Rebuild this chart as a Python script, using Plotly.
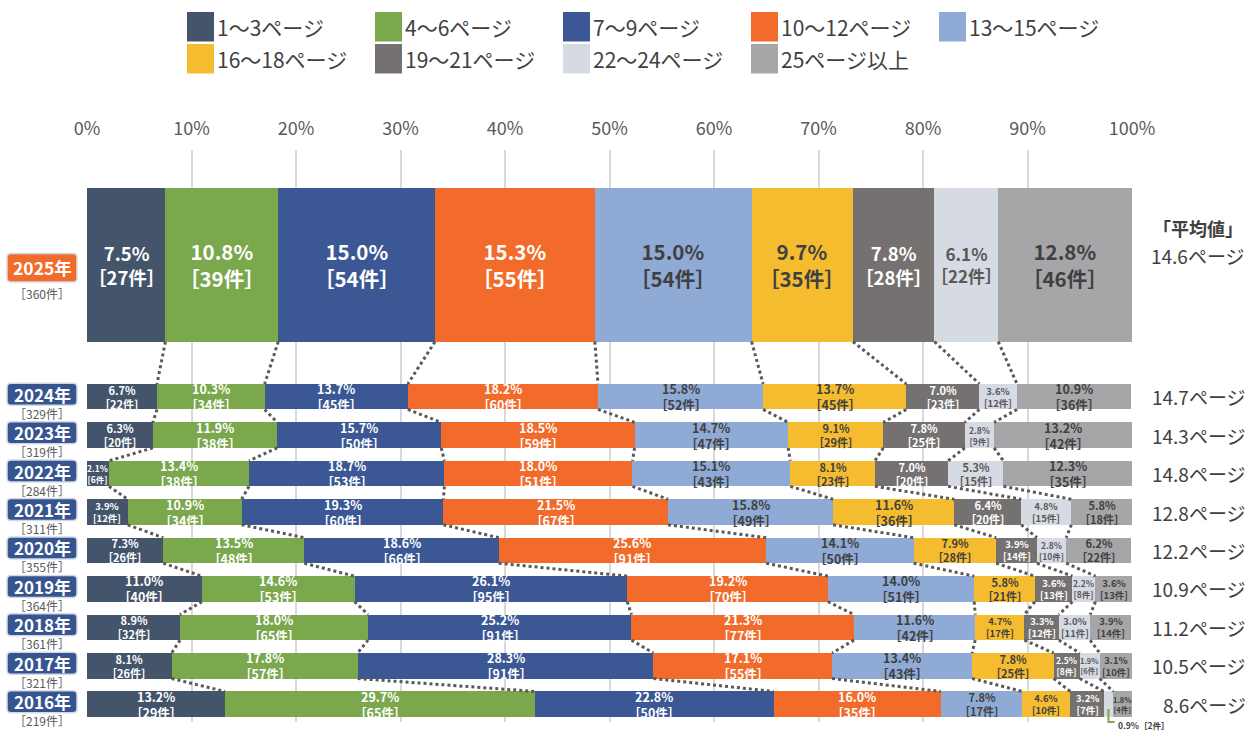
import plotly.graph_objects as go

# ---------------- data ----------------
categories = ["1〜3ページ", "4〜6ページ", "7〜9ページ", "10〜12ページ", "13〜15ページ",
              "16〜18ページ", "19〜21ページ", "22〜24ページ", "25ページ以上"]
years = ["2025年", "2024年", "2023年", "2022年", "2021年",
         "2020年", "2019年", "2018年", "2017年", "2016年"]
totals = [360, 329, 319, 284, 311, 355, 364, 361, 321, 219]
avg_pages = [14.6, 14.7, 14.3, 14.8, 12.8, 12.2, 10.9, 11.2, 10.5, 8.6]
x_ticks = [0, 10, 20, 30, 40, 50, 60, 70, 80, 90, 100]

pct_2025 = [7.5, 10.8, 15.0, 15.3, 15.0, 9.7, 7.8, 6.1, 12.8]
cnt_2025 = [27, 39, 54, 55, 54, 35, 28, 22, 46]
pct_2024 = [6.7, 10.3, 13.7, 18.2, 15.8, 13.7, 7.0, 3.6, 10.9]
cnt_2024 = [22, 34, 45, 60, 52, 45, 23, 12, 36]
pct_2023 = [6.3, 11.9, 15.7, 18.5, 14.7, 9.1, 7.8, 2.8, 13.2]
cnt_2023 = [20, 38, 50, 59, 47, 29, 25, 9, 42]
pct_2022 = [2.1, 13.4, 18.7, 18.0, 15.1, 8.1, 7.0, 5.3, 12.3]
cnt_2022 = [6, 38, 53, 51, 43, 23, 20, 15, 35]
pct_2021 = [3.9, 10.9, 19.3, 21.5, 15.8, 11.6, 6.4, 4.8, 5.8]
cnt_2021 = [12, 34, 60, 67, 49, 36, 20, 15, 18]
pct_2020 = [7.3, 13.5, 18.6, 25.6, 14.1, 7.9, 3.9, 2.8, 6.2]
cnt_2020 = [26, 48, 66, 91, 50, 28, 14, 10, 22]
pct_2019 = [11.0, 14.6, 26.1, 19.2, 14.0, 5.8, 3.6, 2.2, 3.6]
cnt_2019 = [40, 53, 95, 70, 51, 21, 13, 8, 13]
pct_2018 = [8.9, 18.0, 25.2, 21.3, 11.6, 4.7, 3.3, 3.0, 3.9]
cnt_2018 = [32, 65, 91, 77, 42, 17, 12, 11, 14]
pct_2017 = [8.1, 17.8, 28.3, 17.1, 13.4, 7.8, 2.5, 1.9, 3.1]
cnt_2017 = [26, 57, 91, 55, 43, 25, 8, 6, 10]
pct_2016 = [13.2, 29.7, 22.8, 16.0, 7.8, 4.6, 3.2, 0.9, 1.8]
cnt_2016 = [29, 65, 50, 35, 17, 10, 7, 2, 4]

shares = [pct_2025, pct_2024, pct_2023, pct_2022, pct_2021,
          pct_2020, pct_2019, pct_2018, pct_2017, pct_2016]
counts = [cnt_2025, cnt_2024, cnt_2023, cnt_2022, cnt_2021,
          cnt_2020, cnt_2019, cnt_2018, cnt_2017, cnt_2016]

# ---------------- styling ----------------
FONT = "Noto Sans CJK JP"
colors = ["#44546A", "#7BA74D", "#3B5894", "#F26B2B", "#8FAAD5",
          "#F6BC30", "#757171", "#D6DAE3", "#A6A6A8"]
text_colors = ["#FFFFFF", "#FFFFFF", "#FFFFFF", "#FFFFFF", "#404040",
               "#404040", "#FFFFFF", "#595959", "#404040"]
DARK = "#404040"

W, H = 1252, 731
ML, MR, MT, MB = 87, 120, 150, 9
PW, PH = W - ML - MR, H - MT - MB

# vertical layout in row units (1 unit = spacing between the small bars)
PITCH = 38.44          # px per row
ROW0 = 396.7           # px centre of the first small bar
MAIN_CENTER = 264.7    # px centre of the large bar
MAIN_H, ROW_H = 154, 25.5


def yv(py):
    return (py - ROW0) / PITCH


def ppx(px):
    return (px - ML) / PW


def ppy(py):
    return (H - MB - py) / PH


ypos = [yv(MAIN_CENTER)] + [float(i) for i in range(len(years) - 1)]
heights = [MAIN_H / PITCH] + [ROW_H / PITCH] * (len(years) - 1)

fig = go.Figure()

# stacked bars, one trace per page-count class
for j, cat in enumerate(categories):
    fig.add_trace(go.Bar(
        orientation="h",
        name=cat,
        x=[row[j] for row in shares],
        y=ypos,
        width=heights,
        marker=dict(color=colors[j], line=dict(width=0)),
        showlegend=False,
        hovertemplate=cat + ": %{x:.1f}%<extra></extra>",
    ))

# cumulative boundaries for labels and connectors
cums = []
for row in shares:
    c, acc = [], 0.0
    for v in row:
        c.append(acc)
        acc += v
    cums.append(c)

# dotted connectors between the segment boundaries of consecutive years
cx, cy = [], []
for i in range(len(years) - 1):
    y_from = ypos[i] + heights[i] / 2
    y_to = ypos[i + 1] - heights[i + 1] / 2
    for j in range(1, len(categories)):
        cx += [cums[i][j], cums[i + 1][j], None]
        cy += [y_from, y_to, None]
fig.add_trace(go.Scatter(
    x=cx, y=cy, mode="lines", showlegend=False, hoverinfo="skip",
    line=dict(color="#595959", width=3, dash="dot"),
))

annotations = []
shapes = []


def note(**kw):
    kw.setdefault("showarrow", False)
    kw.setdefault("xanchor", "center")
    kw.setdefault("yanchor", "middle")
    kw.setdefault("borderpad", 0)
    annotations.append(kw)


def label_size(v):
    if v >= 9.5:
        return 12.5
    if v >= 5:
        return 11
    if v >= 3:
        return 9.5
    if v >= 2:
        return 8.5
    return 7.5


def main_label_size(v):
    if v >= 9:
        return 20.5
    if v >= 7:
        return 18.5
    return 17


# segment labels: share on the first line, count on the second
for i in range(len(years)):
    for j, v in enumerate(shares[i]):
        if v < 1.5:
            continue
        xc = cums[i][j] + v / 2
        size = main_label_size(v) if i == 0 else label_size(v)
        # narrow segments get compact brackets so the label stays inside
        lb, rb = ("[", "]") if v < 5 else ("［", "］")
        note(x=xc, y=ypos[i], xref="x", yref="y",
             text=f"<b>{v:.1f}%</b><br><b>{lb}{counts[i][j]}件{rb}</b>",
             font=dict(family=FONT, size=size, color=text_colors[j]))

# callout for the thin 22〜24 segment of the last year
last = len(years) - 1
k = 7
xc_small = (cums[last][k] + shares[last][k] / 2) / 100
bar_bottom_px = ROW0 + ypos[last] * PITCH + ROW_H / 2
shapes.append(dict(
    type="path", xref="paper", yref="paper",
    path=f"M{xc_small},{ppy(bar_bottom_px - 8)} L{xc_small},{ppy(bar_bottom_px + 5)} "
         f"L{xc_small + 6 / PW},{ppy(bar_bottom_px + 5)}",
    line=dict(color="#7BA74D", width=2)))
note(x=xc_small + 9 / PW, y=ppy(bar_bottom_px + 8), xref="paper", yref="paper",
     xanchor="left",
     text=f"<b>{shares[last][k]:.1f}%［{counts[last][k]}件］</b>",
     font=dict(family=FONT, size=8.5, color=DARK))


def rounded_rect(x0, y0, x1, y1, r):
    # x/y in px, returns a path in paper coordinates
    def P(px, py):
        return f"{ppx(px)},{ppy(py)}"
    return (f"M{P(x0 + r, y0)} L{P(x1 - r, y0)} Q{P(x1, y0)} {P(x1, y0 + r)} "
            f"L{P(x1, y1 - r)} Q{P(x1, y1)} {P(x1 - r, y1)} "
            f"L{P(x0 + r, y1)} Q{P(x0, y1)} {P(x0, y1 - r)} "
            f"L{P(x0, y0 + r)} Q{P(x0, y0)} {P(x0 + r, y0)} Z")


# year badges and response counts on the left
BOX_X0, BOX_X1 = 7, 77
for i, yr in enumerate(years):
    cpx = ROW0 + ypos[i] * PITCH
    if i == 0:
        bc, bh, badge, fs = cpx + 3, 28.5, "#F26B2B", 17.5
        cnt_py = cpx + 29
    else:
        bc, bh, badge, fs = cpx - 2.5, 22, "#365590", 17
        cnt_py = cpx + 16.5
    shapes.append(dict(
        type="path", xref="paper", yref="paper",
        path=rounded_rect(BOX_X0, bc - bh / 2, BOX_X1, bc + bh / 2, 4),
        fillcolor=badge, line=dict(color="#D3DAE6", width=1.5)))
    note(x=ppx((BOX_X0 + BOX_X1) / 2), y=ppy(bc), xref="paper", yref="paper",
         text=f"<b>{yr}</b>", font=dict(family=FONT, size=fs, color="#FFFFFF"))
    note(x=ppx((BOX_X0 + BOX_X1) / 2), y=ppy(cnt_py), xref="paper", yref="paper",
         text=f"［{totals[i]}件］", font=dict(family=FONT, size=12, color="#595959"))

# average page count on the right
for i, a in enumerate(avg_pages):
    if i == 0:
        note(x=ppx(1198), y=ppy(228), xref="paper", yref="paper",
             text="<b>「平均値」</b>", font=dict(family=FONT, size=18, color=DARK))
        note(x=ppx(1198), y=ppy(255), xref="paper", yref="paper",
             text=f"{a}ページ", font=dict(family=FONT, size=19, color=DARK))
    else:
        note(x=ppx(1247), y=ypos[i], xref="paper", yref="y", xanchor="right",
             text=f"{a}ページ", font=dict(family=FONT, size=19, color=DARK))

# legend drawn as swatches + labels
LEG_X0, LEG_STEP, LEG_PER_ROW = 187, 188, 5
LEG_ROWS_Y = [12, 44]
SW_W, SW_H = 27, 29.5
for j, cat in enumerate(categories):
    r, c = divmod(j, LEG_PER_ROW)
    x0 = LEG_X0 + c * LEG_STEP
    y0 = LEG_ROWS_Y[r]
    shapes.append(dict(
        type="rect", xref="paper", yref="paper",
        x0=ppx(x0), x1=ppx(x0 + SW_W), y0=ppy(y0), y1=ppy(y0 + SW_H),
        fillcolor=colors[j], line=dict(width=0)))
    note(x=ppx(x0 + SW_W + 2), y=ppy(y0 + SW_H / 2), xref="paper", yref="paper",
         xanchor="left", text=cat, font=dict(family=FONT, size=21, color=DARK))

fig.update_layout(
    width=W, height=H,
    margin=dict(l=ML, r=MR, t=MT, b=MB),
    paper_bgcolor="white", plot_bgcolor="white",
    barmode="stack", bargap=0,
    font=dict(family=FONT, color=DARK),
    xaxis=dict(
        range=[0, 100], side="top", tickmode="array", tickvals=x_ticks,
        ticktext=[f"{t}%" for t in x_ticks],
        showgrid=True, gridcolor="#D9D9D9", gridwidth=1.5, zeroline=False,
        showline=False, ticks="", ticklabelstandoff=10,
        tickfont=dict(family=FONT, size=18, color="#595959"),
        fixedrange=True,
    ),
    yaxis=dict(
        range=[yv(H - MB), yv(MT)], showgrid=False, zeroline=False,
        showticklabels=False, showline=False, fixedrange=True,
    ),
    annotations=annotations,
    shapes=shapes,
)

fig.write_html("out.html")
